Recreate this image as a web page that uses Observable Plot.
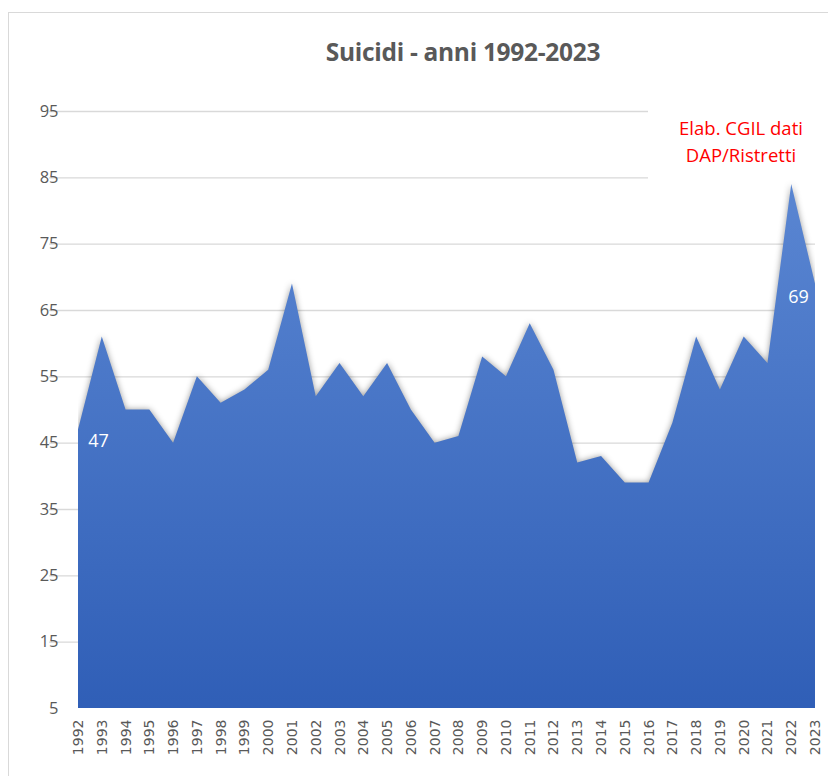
<!DOCTYPE html>
<html><head><meta charset="utf-8">
<script src="https://cdn.jsdelivr.net/npm/d3@7"></script>
<script src="https://cdn.jsdelivr.net/npm/@observablehq/plot@0.6"></script>
<style>
body{margin:0;background:#fff;}
#wrap{position:relative;width:828px;height:776px;overflow:hidden;background:#fff;}
#border{position:absolute;left:8px;top:12px;width:840px;height:800px;border:1px solid #d9d9d9;box-sizing:border-box;}
#title{position:absolute;left:0;top:36px;width:828px;height:32px;padding-left:98px;box-sizing:border-box;text-align:center;font-family:"Open Sans",sans-serif;font-weight:bold;font-size:24.5px;line-height:32px;color:#595959;letter-spacing:-0.3px;}
#chart{position:absolute;left:0;top:80px;}
#note{position:absolute;left:648px;top:100px;width:186px;height:80px;padding-top:14px;box-sizing:border-box;background:#fff;text-align:center;font-family:"Open Sans",sans-serif;font-size:18.5px;line-height:27px;color:#ff0000;}
</style></head>
<body>
<div id="wrap">
  <div id="border"></div>
  <div id="title">Suicidi - anni 1992-2023</div>
  <div id="chart"></div>
  <div id="note">Elab. CGIL dati<br>DAP/Ristretti</div>
</div>
<script>
const years = [1992,1993,1994,1995,1996,1997,1998,1999,2000,2001,2002,2003,2004,2005,2006,2007,2008,2009,2010,2011,2012,2013,2014,2015,2016,2017,2018,2019,2020,2021,2022,2023];
const suicides = [47,61,50,50,45,55,51,53,56,69,52,57,52,57,50,45,46,58,55,63,56,42,43,39,39,48,61,53,61,57,84,69];
const yTicks = [5,15,25,35,45,55,65,75,85,95];

const data = years.map((y, i) => ({year: y, value: suicides[i]}));

const svg = Plot.plot({
  width: 828,
  height: 696,
  marginLeft: 78,
  marginRight: 13,
  marginTop: 31,
  marginBottom: 68,
  style: {fontFamily: "Open Sans, sans-serif", background: "transparent", color: "#595959"},
  x: {domain: [1992, 2023]},
  y: {domain: [5, 95]},
  marks: [
    Plot.ruleY(yTicks.filter(t => t > 5), {stroke: "#d9d9d9", strokeWidth: 1.3, insetLeft: -29}),
    Plot.areaY(data, {x: "year", y: "value", fill: "url(#areaGrad)", clip: true}),
    Plot.axisY({ticks: yTicks, tickSize: 0, tickPadding: 20, fontSize: 16.5, fill: "#595959", label: null}),
    Plot.axisX({ticks: years, tickFormat: d => String(d), tickRotate: -90, tickSize: 0, tickPadding: 11, fontSize: 14, fontFamily: "DejaVu Sans", fill: "#595959", label: null}),
    Plot.text([data[0]], {x: "year", y: "value", text: d => String(d.value), dx: 20, dy: 11, fill: "white", fontSize: 18}),
    Plot.text([data[data.length - 1]], {x: "year", y: "value", text: d => String(d.value), dx: -17, dy: 13, fill: "white", fontSize: 18})
  ]
});

const s = d3.select(svg);
const g = s.append("defs").append("linearGradient").attr("id", "areaGrad")
  .attr("x1", 0).attr("y1", 0).attr("x2", 0).attr("y2", 1);
g.append("stop").attr("offset", "0%").attr("stop-color", "#5a86d2");
g.append("stop").attr("offset", "100%").attr("stop-color", "#2d5cb5");
s.selectAll('g[aria-label="area"] path').style("filter", "drop-shadow(0px 0px 3px rgba(0,0,0,0.4))");

document.getElementById("chart").appendChild(svg);
</script>
</body></html>
